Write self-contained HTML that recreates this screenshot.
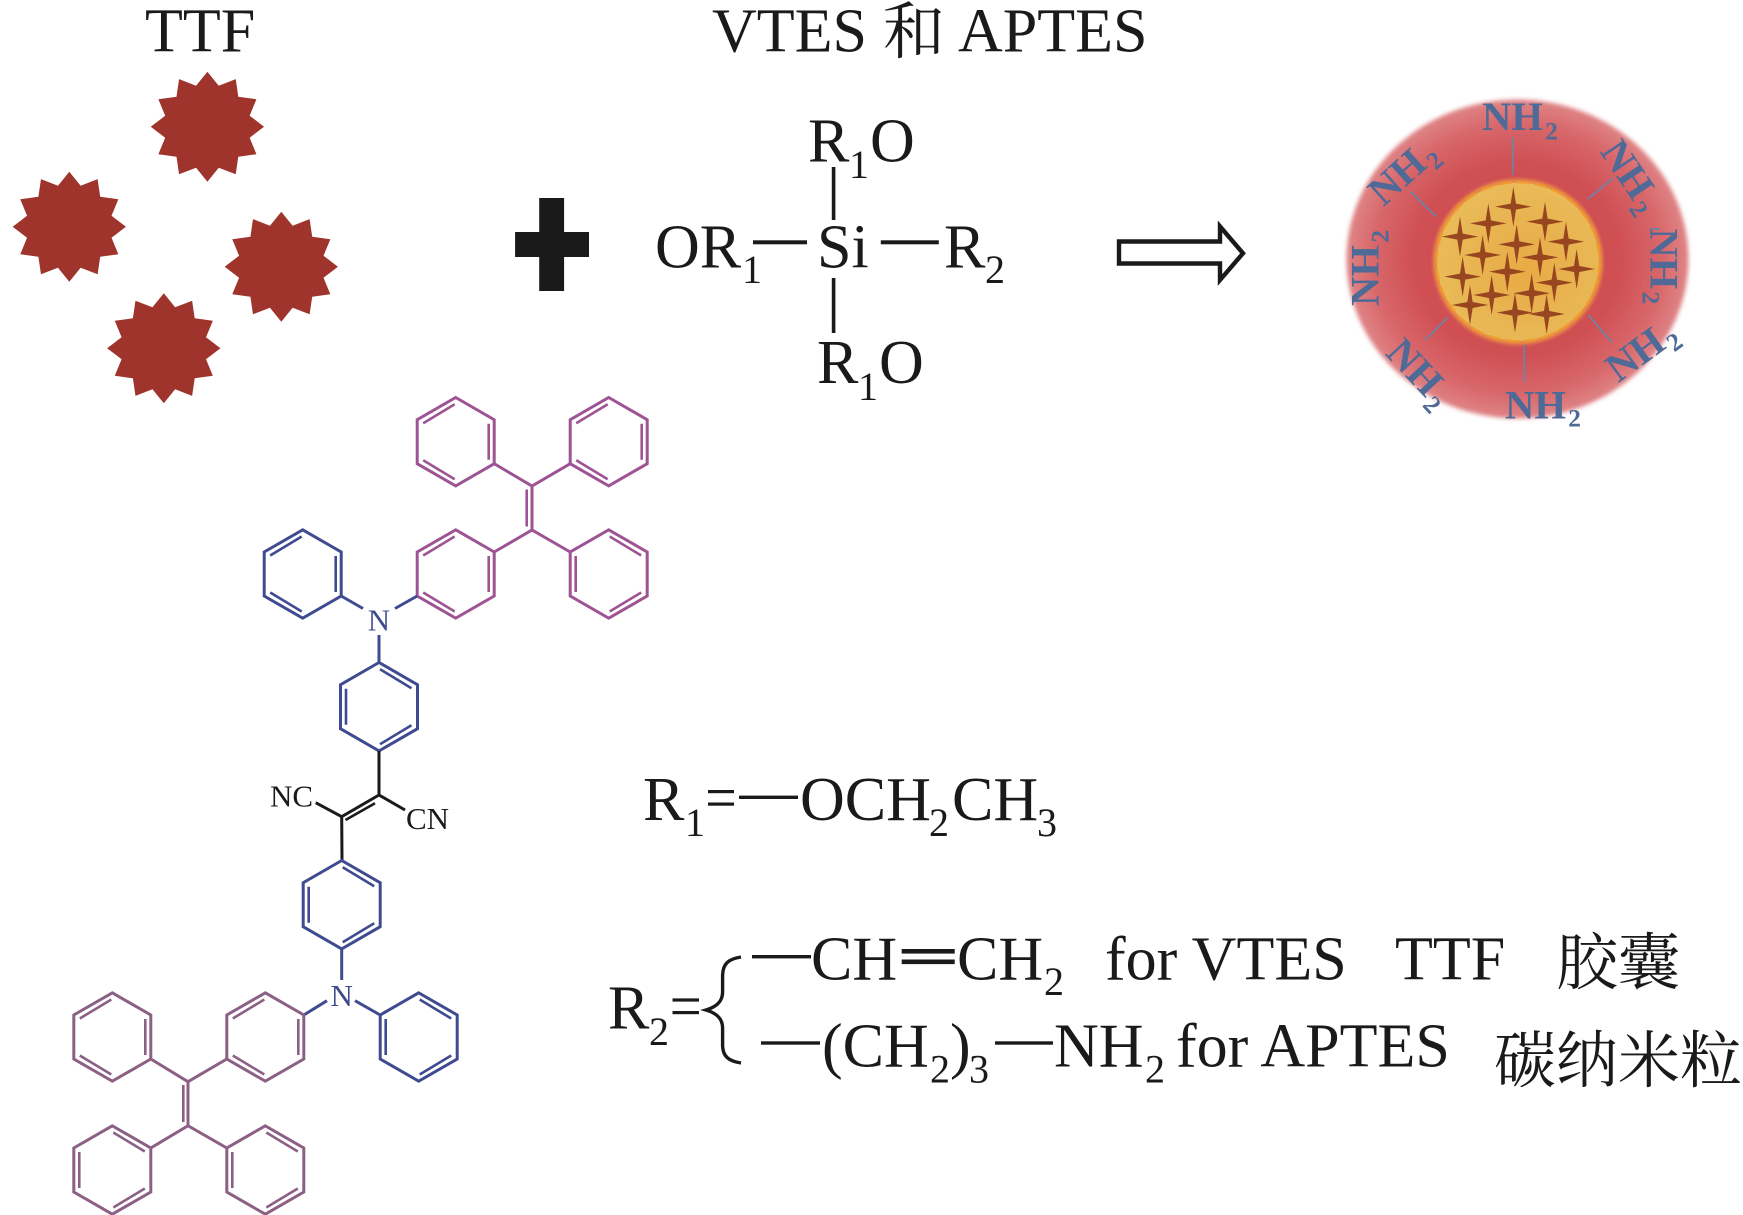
<!DOCTYPE html>
<html lang="zh">
<head>
<meta charset="utf-8">
<title>TTF capsule diagram</title>
<style>
html,body{margin:0;padding:0;background:#fff;width:1743px;height:1215px;overflow:hidden}
svg{display:block}
text{font-family:"Liberation Serif","Noto Serif CJK SC",serif;fill:#1a1a1a}
.t{font-size:62px}
.s{font-size:40px}
.c{font-family:"Liberation Serif","Noto Serif CJK SC",serif;font-size:61px}
.m{font-size:31px}
.b{font-size:31px;fill:#3f4b90}
.n{font-size:122px;font-weight:bold;fill:#4f6a96}
.n2{font-size:76px;font-weight:bold;fill:#4f6a96}
</style>
</head>
<body>
<svg width="1743" height="1215" viewBox="0 0 1743 1215" xmlns="http://www.w3.org/2000/svg">
<defs>
<polygon id="star" points="0,-55 11,-41 27.5,-47.6 30,-30 47.6,-27.5 41,-11 55,0 41,11 47.6,27.5 30,30 27.5,47.6 11,41 0,55 -11,41 -27.5,47.6 -30,30 -47.6,27.5 -41,11 -55,0 -41,-11 -47.6,-27.5 -30,-30 -27.5,-47.6 -11,-41"/>
<g id="hex" fill="none" stroke-width="3" stroke-linejoin="miter">
<path d="M0,-44.2 L38.5,-22 V22 L0,44.2 L-38.5,22 V-22Z"/>
<path d="M-32.5,-18.5 L-1,-37.5 M33,-18 V18 M-32.5,18.5 L-1,37.5" stroke-width="2.6"/>
</g>
<polygon id="sp" points="0,-60 8,-9 55,0 8,9 0,60 -8,9 -55,0 -8,-9" fill="#97461f"/>
<radialGradient id="shell" cx="50%" cy="50%" r="50%">
<stop offset="0" stop-color="#cf4c50"/>
<stop offset="0.6" stop-color="#cf4f53"/>
<stop offset="0.85" stop-color="#d8686b"/>
<stop offset="1" stop-color="#df8486"/>
</radialGradient>
<radialGradient id="core" cx="55%" cy="55%" r="55%">
<stop offset="0" stop-color="#e9aa45"/>
<stop offset="0.7" stop-color="#e8b653"/>
<stop offset="1" stop-color="#e9bb58"/>
</radialGradient>
<filter id="bl" x="-10%" y="-10%" width="120%" height="120%"><feGaussianBlur stdDeviation="2"/></filter>
<filter id="bl2" x="-10%" y="-10%" width="120%" height="120%"><feGaussianBlur stdDeviation="1.5"/></filter>
</defs>

<!-- headings -->
<text class="t" x="145" y="51.7">TTF</text>
<text class="t" x="712" y="51.7">VTES</text>
<text class="c" x="883" y="53" style="font-size:62px">和</text>
<text class="t" x="958" y="51.7">APTES</text>

<!-- TTF stars -->
<g fill="#9f342c">
<use href="#star" transform="translate(207.4,126.7) scale(1.03,1)"/>
<use href="#star" transform="translate(69.3,226.7) scale(1.03,1)"/>
<use href="#star" transform="translate(281.3,266.7) scale(1.03,1)"/>
<use href="#star" transform="translate(163.8,348.3) scale(1.03,1)"/>
</g>

<!-- plus -->
<rect x="539.2" y="198" width="24.9" height="93" fill="#1a1a1a"/>
<rect x="515.1" y="232" width="73.9" height="25" fill="#1a1a1a"/>

<!-- silane -->
<text class="t" x="808" y="161.7">R</text><text class="s" x="849" y="178">1</text><text class="t" x="870" y="161.7">O</text>
<rect x="831.8" y="167" width="3.6" height="53" fill="#1a1a1a"/>
<text class="t" x="655" y="267.7">OR</text><text class="s" x="742" y="283">1</text>
<rect x="753" y="240.3" width="54" height="4" fill="#1a1a1a"/>
<text class="t" x="817" y="267.7">Si</text>
<rect x="880.8" y="240.3" width="58" height="4" fill="#1a1a1a"/>
<text class="t" x="944" y="267.7">R</text><text class="s" x="985" y="283">2</text>
<rect x="831.8" y="278" width="3.6" height="55" fill="#1a1a1a"/>
<text class="t" x="817" y="383">R</text><text class="s" x="858" y="400">1</text><text class="t" x="879" y="383">O</text>

<!-- arrow -->
<path d="M1119,241.5 H1220 V226.5 L1243,253.3 L1220,280 V263.5 H1119Z" fill="#fff" stroke="#1a1a1a" stroke-width="4.4"/>

<!-- nanoparticle -->
<ellipse cx="1517.5" cy="259" rx="171" ry="159.5" fill="url(#shell)" filter="url(#bl)"/>
<ellipse cx="1518" cy="261.7" rx="85" ry="83" fill="#ea8f42" filter="url(#bl2)"/>
<ellipse cx="1518" cy="261.7" rx="81" ry="79" fill="url(#core)"/>
<ellipse cx="1518" cy="261.7" rx="81.5" ry="79.5" fill="none" stroke="#f09a30" stroke-width="2.2" stroke-dasharray="12 6"/>
<g transform="translate(1320,80) scale(0.3333)">
<use href="#sp" x="580" y="380"/><use href="#sp" x="505" y="430"/><use href="#sp" x="675" y="425"/>
<use href="#sp" x="420" y="470"/><use href="#sp" x="590" y="493"/><use href="#sp" x="738" y="485"/>
<use href="#sp" x="488" y="525"/><use href="#sp" x="660" y="532"/><use href="#sp" x="562" y="575"/>
<use href="#sp" x="770" y="567"/><use href="#sp" x="428" y="590"/><use href="#sp" x="703" y="608"/>
<use href="#sp" x="515" y="645"/><use href="#sp" x="635" y="640"/><use href="#sp" x="450" y="675"/>
<use href="#sp" x="585" y="698"/><use href="#sp" x="680" y="702"/>
<g stroke="#6b85a8" stroke-width="5" fill="none">
<path d="M578,172V285M272,335L348,410M878,295L803,357M383,713L315,780M805,705L875,787M613,795V905M990,447H1020"/>
</g>
<g transform="translate(486,150)"><text class="n" x="0" y="0">NH</text><text class="n2" x="190" y="28">2</text></g>
<g transform="translate(555,1015)"><text class="n" x="0" y="0">NH</text><text class="n2" x="190" y="24">2</text></g>
<g transform="translate(190,382) rotate(-42)"><text class="n" x="0" y="0">NH</text><text class="n2" x="190" y="24">2</text></g>
<g transform="translate(175,678) rotate(-90)"><text class="n" x="0" y="0">NH</text><text class="n2" x="190" y="30">2</text></g>
<g transform="translate(838,215) rotate(56)"><text class="n" x="0" y="0">NH</text><text class="n2" x="190" y="24">2</text></g>
<g transform="translate(992,445) rotate(90)"><text class="n" x="0" y="0">NH</text><text class="n2" x="190" y="24">2</text></g>
<g transform="translate(895,910) rotate(-36)"><text class="n" x="0" y="0">NH</text><text class="n2" x="190" y="24">2</text></g>
<g transform="translate(193,822) rotate(47)"><text class="n" x="0" y="0">NH</text><text class="n2" x="190" y="24">2</text></g>
</g>

<!-- upper molecule -->
<g stroke="#9e5494">
<use href="#hex" x="455.7" y="441.7"/>
<use href="#hex" x="608.7" y="441.7"/>
<use href="#hex" x="455.7" y="574"/>
<use href="#hex" transform="translate(608.7,574) scale(-1,1)"/>
<path d="M494.2,463.7 L532,486 L570.2,463.7 M494.2,552 L532,530 L570.2,552 M532,486 V530" fill="none" stroke-width="3"/>
<path d="M526.7,489.5 V526.5" fill="none" stroke-width="2.6"/>
</g>
<g stroke="#3f4b90">
<use href="#hex" x="302.7" y="574"/>
<use href="#hex" transform="translate(379,706.7) scale(-1,1)"/>
<path d="M341.2,596 L363,608.5 M395,608.5 L417.2,596 M379,635 V662.5" fill="none" stroke-width="3"/>
</g>
<text class="b" x="379" y="630.7" text-anchor="middle">N</text>

<!-- centre -->
<g stroke="#1a1a1a" fill="none" stroke-width="3">
<path d="M379,751 V795 L405,810 M379,795 L341.7,816.7 L315.7,802.7 M341.7,816.7 L342,860.7"/>
<path d="M345.5,820 L375,803.3" stroke-width="2.6"/>
</g>
<text class="m" x="270" y="806.7">NC</text>
<text class="m" x="406" y="829">CN</text>

<!-- lower molecule -->
<g stroke="#3f4b90">
<use href="#hex" transform="translate(341.7,904.7) scale(-1,1)"/>
<use href="#hex" transform="translate(418.7,1037) scale(-1,1)"/>
<path d="M341.7,949 V980 M303.8,1015 L327,1000.7 M355,1000.7 L380.2,1015" fill="none" stroke-width="3"/>
</g>
<text class="b" x="341.7" y="1006" text-anchor="middle">N</text>
<g stroke="#8c6084">
<use href="#hex" x="265.3" y="1037"/>
<use href="#hex" x="112.3" y="1037"/>
<use href="#hex" transform="translate(112.3,1170) scale(-1,1)"/>
<use href="#hex" transform="translate(265.3,1170) scale(-1,1)"/>
<path d="M150.8,1059 L188,1081.7 L226.8,1059 M150.8,1148 L188,1125.7 L226.8,1148 M188,1081.7 V1125.7" fill="none" stroke-width="3"/>
<path d="M183.3,1085 V1122" fill="none" stroke-width="2.6"/>
</g>

<!-- R1 -->
<text class="t" x="643" y="820">R</text><text class="s" x="685" y="836">1</text>
<rect x="708" y="790" width="26" height="3.2" fill="#1a1a1a"/>
<rect x="708" y="802.5" width="26" height="3.2" fill="#1a1a1a"/>
<rect x="739" y="795.6" width="59" height="3.4" fill="#1a1a1a"/>
<text class="t" x="800" y="820">OCH</text><text class="s" x="929" y="836">2</text>
<text class="t" x="952" y="820">CH</text><text class="s" x="1037" y="836">3</text>

<!-- R2 -->
<text class="t" x="608" y="1028.3">R</text><text class="s" x="649" y="1045">2</text>
<rect x="672.5" y="998.4" width="26.5" height="3.2" fill="#1a1a1a"/>
<rect x="672.5" y="1011" width="26.5" height="3.2" fill="#1a1a1a"/>
<path d="M741,957 C728,959 723,964 722.6,975 V992 C722.6,1002 716,1007 706,1010 C716,1013 722.6,1018 722.6,1028 V1046 C723,1056 728,1061 741,1063" fill="none" stroke="#1a1a1a" stroke-width="3.4"/>

<rect x="752" y="955" width="59" height="3.4" fill="#1a1a1a"/>
<text class="t" x="811" y="979.3">CH</text>
<rect x="901.7" y="949" width="53" height="4.6" fill="#1a1a1a"/>
<rect x="901.7" y="959.5" width="53" height="4.6" fill="#1a1a1a"/>
<text class="t" x="957" y="979.3">CH</text><text class="s" x="1044" y="995">2</text>
<text class="t" x="1105" y="979.3">for VTES</text>
<text class="t" x="1395" y="979.3">TTF</text>
<text class="c" x="1556" y="984" style="font-size:62px">胶囊</text>

<rect x="761" y="1041.3" width="59" height="3.4" fill="#1a1a1a"/>
<text class="t" x="822" y="1066.7">(CH</text><text class="s" x="930" y="1082.7">2</text>
<text class="t" x="950" y="1066.7">)</text><text class="s" x="969" y="1082.7">3</text>
<rect x="995" y="1041.3" width="58" height="3.4" fill="#1a1a1a"/>
<text class="t" x="1054" y="1066.7">NH</text><text class="s" x="1145" y="1082.7">2</text>
<text class="t" x="1176" y="1066.7">for APTES</text>
<text class="c" x="1494" y="1082" style="font-size:62px">碳纳米粒</text>
</svg>
</body>
</html>
